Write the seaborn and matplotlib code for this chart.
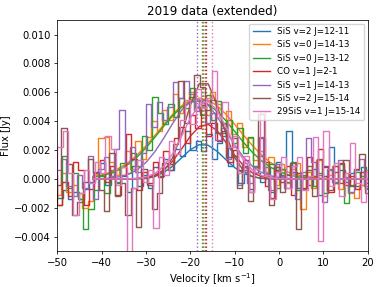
import matplotlib
matplotlib.use("Agg")
import matplotlib.pyplot as plt
import seaborn as sns
import numpy as np
import pandas as pd

# line names and colours (matplotlib default cycle)
lines = ["SiS v=2 J=12-11", "SiS v=0 J=14-13", "SiS v=0 J=13-12", "CO v=1 J=2-1",
         "SiS v=1 J=14-13", "SiS v=2 J=15-14", "29SiS v=1 J=15-14"]
colors = ["#1f77b4", "#ff7f0e", "#2ca02c", "#d62728", "#9467bd", "#8c564b", "#e377c2"]

# fitted line centres [km/s]
centres = [-17.2, -17.2, -17.4, -16.6, -18.5, -16.8, -15.2]

# spectra, channel width 1.2 km/s, first channel velocity per line, flux in mJy
chan_width = 1.2
chan_start = [-50.6, -51.0, -50.8, -50.7, -51.0, -50.9, -50.6]

spec_blue = [0.3, -1.3, -0.8, -1.4, -0.9, -1.4, -0.7, -0.2, 0.4, 1.1,
             -0.4, 0.6, -0.3, 0.2, -0.9, 0.9, -0.5, 0.3, -0.6, 0.8,
             0.2, 1.4, 0.6, 2.1, 1.6, 3.3, 2.0, 2.6, 1.9, 3.1,
             1.4, 2.5, 3.0, 0.9, 1.6, -0.3, 0.6, -0.7, 0.4, -0.2,
             0.8, -0.9, 1.2, 0.3, 3.3, 0.5, -0.6, 0.2, -0.4, 0.7,
             -1.1, 0.9, 2.2, -0.3, 0.6, -0.2, 0.4, -0.5, 0.8, -0.6, 0.3]
spec_orange = [-0.3, -1.1, 0.4, -0.9, -0.4, -1.0, -2.0, -1.5, 0.3, 2.8,
               2.9, 1.2, 0.3, 0.8, 1.9, 0.7, 2.6, 1.4, 2.9, 4.0,
               3.3, 4.8, 4.1, 5.9, 4.6, 5.3, 6.0, 4.9, 5.5, 4.4,
               6.0, 5.2, 3.8, 4.7, 3.1, 3.9, 2.2, 2.8, 1.3, 1.9,
               0.5, 1.5, -0.4, 1.0, -0.3, 0.7, 1.1, -2.1, 0.5, -0.6,
               1.3, -1.2, 0.3, 0.9, -0.7, 0.4, -1.0, -1.3, -0.4, 0.6, -0.2]
spec_green = [-3.0, -1.8, 1.6, -0.6, 0.4, -1.4, -3.5, -2.1, -0.8, 0.2,
              -1.0, 0.5, -0.2, 1.1, 0.4, 1.8, 0.9, 3.0, 2.0, 5.7,
              4.6, 3.8, 5.2, 4.3, 5.6, 4.9, 6.3, 5.0, 4.4, 5.8,
              4.1, 5.4, 3.2, 4.1, 2.5, 3.5, 1.8, 2.9, 0.9, 1.6,
              0.2, 1.0, -0.6, 0.7, -0.2, 1.2, -0.8, 0.3, 0.9, -0.5,
              0.4, -1.0, 0.6, -0.3, 1.0, -1.7, -0.4, 0.5, 0.2, -0.7, 0.4]
spec_red = [-0.5, -1.8, -0.2, -1.2, 1.2, 0.6, -1.8, -0.7, 0.4, 1.3,
            -0.2, 0.9, -1.1, 0.3, 3.1, 1.4, -0.8, 0.5, -0.3, 1.2,
            0.1, 1.9, 1.0, 2.8, 3.6, 2.5, 4.4, 3.5, 5.1, 3.0,
            3.9, 2.6, 3.3, 1.2, 2.0, 0.6, 1.3, -0.9, 0.7, 2.8,
            -0.5, -1.3, 0.6, -0.2, 0.9, -1.1, 0.4, -0.6, 1.5, 0.2,
            2.1, 0.8, -0.9, 0.5, 1.1, -0.4, 0.2, -0.7, 0.5, -0.3, 0.6]
spec_purple = [2.1, 0.6, 1.4, -0.5, -1.2, 0.3, -0.6, 1.6, -1.4, 0.7,
               1.5, 0.2, 2.1, 4.8, 1.1, 2.2, 0.5, 1.8, 5.2, 3.6,
               5.3, 4.1, 5.0, 6.7, 5.6, 6.8, 5.9, 4.7, 5.5, 3.9,
               4.6, 2.7, 3.5, 1.4, 2.2, -0.4, 1.1, -0.3, 0.8, 2.9,
               0.4, -0.8, 1.0, 0.2, -0.6, 0.9, -1.4, 0.5, 2.8, 1.2,
               0.3, -1.6, 0.7, -0.2, 1.3, 0.1, -0.9, 0.6, 1.4, -0.5, 0.2]
spec_brown = [-1.8, -0.4, 3.5, 1.0, -2.5, -1.6, -0.2, 1.4, 0.5, -0.8,
              -2.2, 1.8, -1.2, -0.3, -2.5, -0.6, -3.3, 0.7, -0.4, -2.1,
              -1.0, 1.1, 0.6, 2.4, 6.8, 3.9, 5.7, 7.2, 6.4, 4.8,
              5.5, 3.2, 3.9, 1.5, 2.8, -0.6, 0.9, -1.5, 0.4, 4.5,
              1.2, -1.8, 0.8, -0.9, 0.3, 1.1, -3.5, -0.7, 0.6, -1.2,
              1.4, 0.2, -0.8, 0.9, -0.3, 1.3, -0.5, 0.7, 1.7, -1.0, 0.4]
spec_pink = [-0.8, 2.2, 3.3, 0.4, -2.5, -1.0, 0.6, -0.3, 1.2, 0.4,
             3.0, 2.1, -0.4, 0.8, -5.2, -0.6, 1.3, -0.2, 0.6, -3.4,
             1.5, 0.3, 2.6, 1.7, 4.1, 5.5, 3.8, 6.2, 4.9, 5.6,
             7.5, 4.3, 5.3, 2.2, 3.0, 0.4, 1.6, -0.9, 0.7, 4.7,
             0.3, -1.4, 0.5, 1.5, -0.6, 0.9, 1.5, -0.8, 0.2, 2.9,
             -4.3, 3.3, -0.5, 1.1, -1.2, 0.4, 2.5, -0.3, -1.6, 0.5, 0.1]

# gaussian fits, mJy at -42, -40, ..., 20 km/s
fit_vel = list(range(-42, 21, 2))
fit_blue = [0, 0, 0, 0, 0.01, 0.02, 0.07, 0.19, 0.45, 0.88, 1.46, 2.03, 2.37, 2.33, 1.92, 1.33,
            0.78, 0.38, 0.16, 0.05, 0.01, 0, 0, 0, 0, 0, 0, 0, 0, 0, 0, 0]
fit_orange = [0.16, 0.28, 0.47, 0.76, 1.15, 1.67, 2.30, 3.02, 3.77, 4.48, 5.07, 5.46, 5.60, 5.46, 5.07, 4.48,
              3.77, 3.02, 2.30, 1.67, 1.15, 0.76, 0.47, 0.28, 0.16, 0.09, 0.04, 0.02, 0.01, 0, 0, 0]
fit_green = [0.12, 0.22, 0.39, 0.65, 1.02, 1.53, 2.16, 2.89, 3.66, 4.38, 4.96, 5.32, 5.39, 5.17, 4.69, 4.03,
             3.28, 2.52, 1.83, 1.26, 0.82, 0.51, 0.29, 0.16, 0.08, 0.04, 0.02, 0.01, 0, 0, 0, 0]
fit_red = [0, 0, 0, 0, 0.01, 0.03, 0.10, 0.27, 0.62, 1.23, 2.07, 2.97, 3.63, 3.78, 3.35, 2.53,
           1.63, 0.90, 0.42, 0.17, 0.06, 0.02, 0, 0, 0, 0, 0, 0, 0, 0, 0, 0]
fit_purple = [0.01, 0.02, 0.06, 0.15, 0.32, 0.64, 1.15, 1.89, 2.83, 3.84, 4.76, 5.35, 5.48, 5.11, 4.33, 3.34,
              2.34, 1.49, 0.87, 0.46, 0.22, 0.10, 0.04, 0.01, 0, 0, 0, 0, 0, 0, 0, 0]
fit_brown = [0, 0, 0, 0, 0, 0.01, 0.03, 0.16, 0.54, 1.47, 3.11, 5.13, 6.59, 6.59, 5.13, 3.11,
             1.47, 0.54, 0.16, 0.03, 0.01, 0, 0, 0, 0, 0, 0, 0, 0, 0, 0, 0]
fit_pink = [0, 0, 0, 0, 0.01, 0.04, 0.14, 0.38, 0.88, 1.75, 2.95, 4.23, 5.16, 5.37, 4.76, 3.60,
            2.32, 1.28, 0.60, 0.24, 0.08, 0.02, 0, 0, 0, 0, 0, 0, 0, 0, 0, 0]

spectra = [spec_blue, spec_orange, spec_green, spec_red, spec_purple, spec_brown, spec_pink]
fits = [fit_blue, fit_orange, fit_green, fit_red, fit_purple, fit_brown, fit_pink]

plt.rcParams.update({
    "font.size": 7.2,
    "axes.titlesize": 8.6,
    "axes.labelsize": 7.2,
    "xtick.labelsize": 7.2,
    "ytick.labelsize": 7.2,
    "legend.fontsize": 6.3,
    "axes.linewidth": 0.55,
    "xtick.major.width": 0.55,
    "ytick.major.width": 0.55,
    "xtick.major.size": 2.5,
    "ytick.major.size": 2.5,
    "xtick.major.pad": 2.5,
    "ytick.major.pad": 2.5,
})

fig, ax = plt.subplots(figsize=(3.8, 2.87), dpi=100)
fig.subplots_adjust(left=0.151, right=0.968, top=0.930, bottom=0.125)

lw = 1.0
handles = []
for name, col, v0, spec, fit, vc in zip(lines, colors, chan_start, spectra, fits, centres):
    vel = v0 + chan_width * np.arange(len(spec))
    df = pd.DataFrame({"vel": vel, "flux": np.array(spec) * 1e-3})
    sns.lineplot(data=df, x="vel", y="flux", color=col, lw=lw, drawstyle="steps-mid",
                 estimator=None, sort=False, ax=ax)
    handles.append(ax.lines[-1])
    dff = pd.DataFrame({"vel": fit_vel, "flux": np.array(fit) * 1e-3})
    sns.lineplot(data=dff, x="vel", y="flux", color=col, lw=lw, estimator=None, sort=False, ax=ax)
    ax.axvline(vc, color=col, ls=":", lw=lw)

ax.set_xlim(-50, 20)
ax.set_ylim(-0.005, 0.011)
ax.set_title("2019 data (extended)", pad=4)
ax.set_xlabel("Velocity [km s$^{-1}$]", labelpad=2)
ax.set_ylabel("Flux [Jy]", labelpad=2)
ax.legend(handles, lines, loc="upper right", borderaxespad=0.4, handlelength=2.0)

fig.savefig("out.png", dpi=100)
